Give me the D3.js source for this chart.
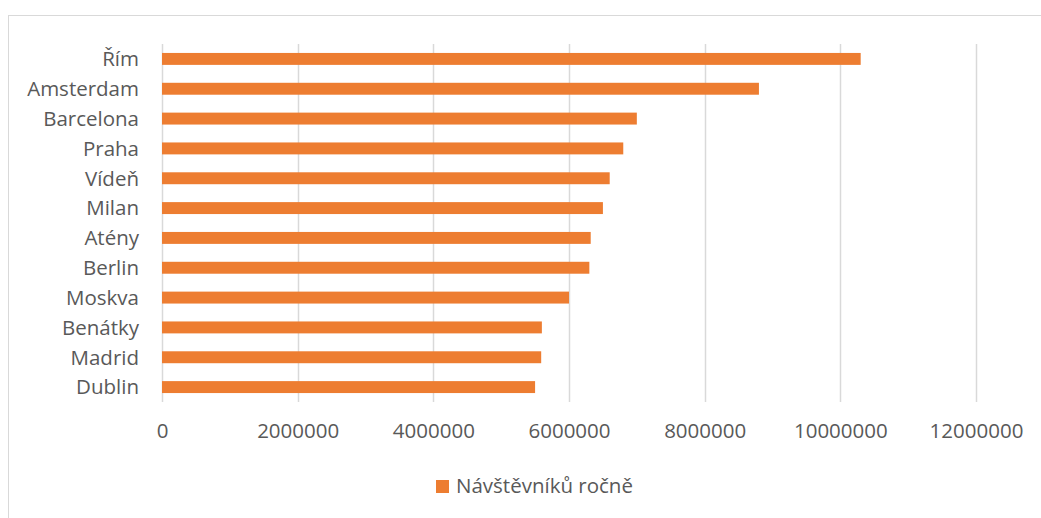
<!DOCTYPE html>
<html><head><meta charset="utf-8">
<script src="https://cdn.jsdelivr.net/npm/d3@7"></script>
<style>body{margin:0;background:#fff;} text{font-family:"Open Sans",sans-serif;fill:#595959;}</style>
</head><body>
<svg id="c" width="1041" height="518"></svg>
<script>
const categories = ["Řím","Amsterdam","Barcelona","Praha","Vídeň","Milan","Atény","Berlin","Moskva","Benátky","Madrid","Dublin"];
const values = [10300000,8800000,7000000,6800000,6600000,6500000,6320000,6300000,6000000,5600000,5590000,5500000];
const tickValues = [0,2000000,4000000,6000000,8000000,10000000,12000000];
const seriesName = "Návštěvníků ročně";

const svg = d3.select("#c");
svg.append("rect").attr("x",8.5).attr("y",15.5).attr("width",1200).attr("height",700)
  .attr("fill","#fff").attr("stroke","#d9d9d9").attr("stroke-width",1);

const x = d3.scaleLinear().domain([0,12000000]).range([162,976]);
const y = d3.scaleBand().domain(categories).range([44,402]).paddingInner(0.6).paddingOuter(0.3);

// gridlines
svg.append("g").selectAll("line").data(tickValues).join("line")
  .attr("x1",d=>Math.round(x(d))+0.5).attr("x2",d=>Math.round(x(d))+0.5)
  .attr("y1",44).attr("y2",402).attr("stroke","#d9d9d9").attr("stroke-width",1.5);

// bars
svg.append("g").selectAll("rect").data(values).join("rect")
  .attr("x",x(0)).attr("y",(d,i)=>y(categories[i]))
  .attr("width",d=>x(d)-x(0)).attr("height",y.bandwidth())
  .attr("fill","#ED7D31");

// x axis labels
const xAxis = d3.axisBottom(x).tickValues(tickValues).tickSize(0).tickPadding(0).tickFormat(d3.format("d"));
const gx = svg.append("g").attr("transform","translate(0,420)").call(xAxis);
gx.select(".domain").remove();
gx.selectAll("text").attr("font-size","20.5px").attr("font-family","Open Sans, sans-serif").attr("fill","#595959").attr("dy","0.9em");

// y axis labels
const yAxis = d3.axisLeft(y).tickSize(0).tickPadding(0);
const gy = svg.append("g").attr("transform","translate(139,0)").call(yAxis);
gy.select(".domain").remove();
gy.selectAll("text").attr("font-size","20.5px").attr("font-family","Open Sans, sans-serif").attr("fill","#595959").attr("dy","0.36em");

// legend
const lg = svg.append("g");
lg.append("rect").attr("x",436).attr("y",480).attr("width",13).attr("height",13).attr("fill","#ED7D31");
lg.append("text").attr("x",456).attr("y",493).attr("font-size","20.5px").text(seriesName);
</script>
</body></html>
